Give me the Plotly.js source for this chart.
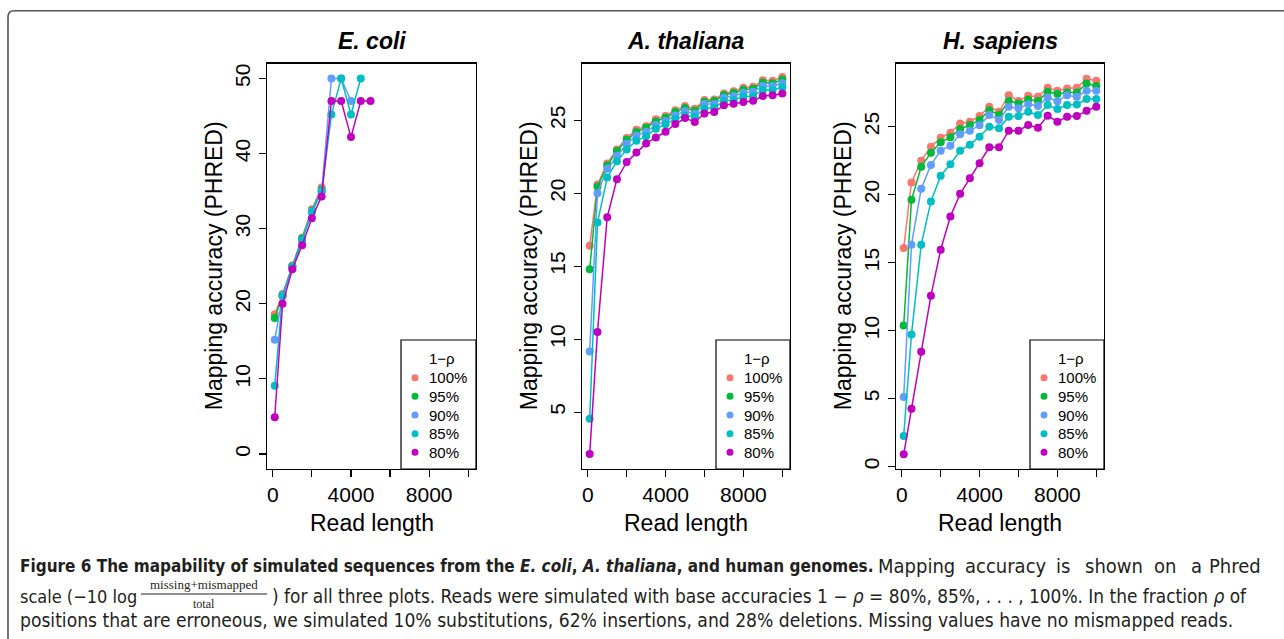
<!DOCTYPE html>
<html>
<head>
<meta charset="utf-8">
<script src="https://cdn.plot.ly/plotly-3.0.1.min.js"></script>
<style>html,body{margin:0;padding:0;background:#fff;}#chart{width:1284px;height:639px;}</style>
</head>
<body>
<div id="chart"></div>
<script>
// ---------- data ----------
const readLength = [100, 500, 1000, 1500, 2000, 2500, 3000, 3500, 4000, 4500, 5000, 5500, 6000, 6500, 7000, 7500, 8000, 8500, 9000, 9500, 10000];
const seriesNames = ['100%', '95%', '90%', '85%', '80%'];
const seriesColors = ['#F8766D', '#00BA38', '#619CFF', '#00BFC4', '#C000C0'];
const panelTitles = ['E. coli', 'A. thaliana', 'H. sapiens'];
const legendTitle = '1\u2212\u03c1';

const ecoli100 = [18.6, 21.3, 25.1, 28.8, 32.6, 35.5, null, null, null, null, null, null, null, null, null, null, null, null, null, null, null];
const ecoli95  = [18.1, 21.1, 25.0, 28.7, 32.4, 35.2, null, null, null, null, null, null, null, null, null, null, null, null, null, null, null];
const ecoli90  = [15.2, 21.0, 24.9, 28.4, 32.3, 35.0, 50, 50, 47, null, null, null, null, null, null, null, null, null, null, null, null];
const ecoli85  = [9.1, 21.1, 24.9, 28.5, 32.2, 34.9, 45.2, 50, 45.2, 50, null, null, null, null, null, null, null, null, null, null, null];
const ecoli80  = [4.9, 20.0, 24.6, 27.8, 31.4, 34.3, 47, 47, 42.2, 47, 47, null, null, null, null, null, null, null, null, null, null];

const athal100 = [16.4, 20.6, 22.05, 23.0, 23.8, 24.35, 24.6, 25.07, 25.3, 25.7, 25.98, 25.8, 26.4, 26.44, 26.85, 27.0, 27.24, 27.3, 27.75, 27.72, 27.97];
const athal95  = [14.8, 20.45, 21.9, 22.9, 23.67, 24.2, 24.5, 24.93, 25.18, 25.57, 25.85, 25.66, 26.28, 26.33, 26.74, 26.88, 27.1, 27.17, 27.59, 27.54, 27.8];
const athal90  = [9.16, 20.0, 21.68, 22.57, 23.4, 23.97, 24.22, 24.68, 24.95, 25.34, 25.62, 25.46, 26.12, 26.12, 26.56, 26.67, 26.9, 26.97, 27.36, 27.36, 27.54];
const athal85  = [4.54, 18.0, 21.09, 22.19, 23.0, 23.6, 23.92, 24.43, 24.73, 25.1, 25.34, 25.23, 25.82, 25.87, 26.33, 26.4, 26.62, 26.67, 27.08, 27.08, 27.27];
const athal80  = [2.12, 10.5, 18.36, 20.97, 22.14, 22.8, 23.42, 23.83, 24.22, 24.75, 25.16, 24.89, 25.48, 25.57, 26.03, 26.14, 26.26, 26.35, 26.67, 26.72, 26.85];

const hsap100 = [16.07, 20.9, 22.5, 23.53, 24.19, 24.56, 25.24, 25.37, 25.78, 26.47, 26.1, 27.32, 26.9, 27.27, 27.2, 27.86, 27.64, 27.81, 27.86, 28.52, 28.38];
const hsap95  = [10.37, 19.62, 22.06, 23.09, 23.85, 24.22, 24.83, 25.12, 25.49, 26.22, 25.86, 26.9, 26.71, 27.0, 26.9, 27.57, 27.4, 27.52, 27.52, 28.18, 28.0];
const hsap90  = [5.11, 16.32, 20.43, 22.19, 23.24, 23.6, 24.44, 24.71, 25.1, 25.86, 25.49, 26.47, 26.35, 26.66, 26.52, 27.15, 26.88, 27.32, 27.2, 27.64, 27.64];
const hsap85  = [2.25, 9.71, 16.32, 19.5, 21.4, 22.24, 23.24, 23.68, 24.27, 25.0, 24.88, 25.73, 25.78, 26.1, 25.86, 26.59, 26.3, 26.59, 26.64, 27.03, 27.03];
const hsap80  = [0.9, 4.26, 8.44, 12.57, 15.95, 18.4, 20.06, 21.21, 22.31, 23.48, 23.48, 24.71, 24.71, 25.12, 24.93, 25.81, 25.37, 25.73, 25.78, 26.17, 26.47];

const xTickVals = [0, 2000, 4000, 6000, 8000, 10000];
const xTickText = ['0', '', '4000', '', '8000', ''];
const yTickVals1 = [0, 10, 20, 30, 40, 50];
const yTickVals2 = [5, 10, 15, 20, 25];
const yTickVals3 = [0, 5, 10, 15, 20, 25];

const panelSeries = [
  [ecoli100, ecoli95, ecoli90, ecoli85, ecoli80],
  [athal100, athal95, athal90, athal85, athal80],
  [hsap100, hsap95, hsap90, hsap85, hsap80]
];

// ---------- layout helpers ----------
const W = 1284, H = 639;
const fx = v => v / W;
const fy = v => 1 - v / H;
const FONT = 'Liberation Sans, Arial, Helvetica, sans-serif';
const panels = [{l: 267, r: 476}, {l: 582, r: 790}, {l: 896, r: 1104}];
const boxTop = 63.5, boxBottom = 469;
const legendLeft = [401, 716, 1030];
const yRanges = [[-2, 52], [1.1, 28.9], [-0.18, 29.65]];
const yTicks = [yTickVals1, yTickVals2, yTickVals3];

const traces = [];
panelSeries.forEach((group, p) => {
  group.forEach((ys, s) => {
    traces.push({
      x: readLength, y: ys,
      xaxis: p === 0 ? 'x' : 'x' + (p + 1),
      yaxis: p === 0 ? 'y' : 'y' + (p + 1),
      type: 'scatter', mode: 'lines+markers',
      name: seriesNames[s], showlegend: false,
      connectgaps: false,
      line: {color: seriesColors[s], width: 1.5},
      marker: {color: seriesColors[s], size: 8}
    });
  });
});

const layout = {
  width: W, height: H,
  margin: {l: 0, r: 0, t: 0, b: 0},
  paper_bgcolor: '#fff', plot_bgcolor: '#fff',
  showlegend: false,
  font: {family: FONT, color: '#000'},
  shapes: [], annotations: []
};

panels.forEach((pn, p) => {
  const sfx = p === 0 ? '' : String(p + 1);
  layout['xaxis' + sfx] = {
    domain: [fx(pn.l), fx(pn.r)], anchor: 'y' + sfx,
    range: [-296, 10396],
    tickvals: xTickVals, ticktext: xTickText,
    ticks: 'outside', ticklen: 7, tickwidth: 1.2, tickcolor: '#000',
    showline: true, mirror: true, linecolor: '#000', linewidth: 1.2,
    showgrid: false, zeroline: false,
    tickfont: {family: FONT, size: 21, color: '#000'}
  };
  layout['yaxis' + sfx] = {
    domain: [fy(boxBottom), fy(boxTop)], anchor: 'x' + sfx,
    range: yRanges[p],
    tickvals: yTicks[p], tickangle: -90,
    ticks: 'outside', ticklen: 7, tickwidth: 1.2, tickcolor: '#000',
    showline: true, mirror: true, linecolor: '#000', linewidth: 1.2,
    showgrid: false, zeroline: false,
    tickfont: {family: FONT, size: 21, color: '#000'}
  };
  const cx = (pn.l + pn.r) / 2;
  layout.annotations.push({xref: 'paper', yref: 'paper', x: fx(cx), y: fy(41), xanchor: 'center', yanchor: 'middle',
    text: '<b><i>' + panelTitles[p] + '</i></b>', showarrow: false, font: {family: FONT, size: 23, color: '#000'}});
  layout.annotations.push({xref: 'paper', yref: 'paper', x: fx(cx), y: fy(523), xanchor: 'center', yanchor: 'middle',
    text: 'Read length', showarrow: false, font: {family: FONT, size: 23, color: '#000'}});
  layout.annotations.push({xref: 'paper', yref: 'paper', x: fx(pn.l - 53), y: fy((boxTop + boxBottom) / 2), xanchor: 'center', yanchor: 'middle',
    text: 'Mapping accuracy (PHRED)', textangle: -90, showarrow: false, font: {family: FONT, size: 23, color: '#000'}});
  const ll = legendLeft[p];
  layout.shapes.push({type: 'rect', xref: 'paper', yref: 'paper', x0: fx(ll), x1: fx(pn.r), y0: fy(boxBottom), y1: fy(340),
    line: {color: '#000', width: 1.2}, fillcolor: '#fff', layer: 'above'});
  layout.annotations.push({xref: 'paper', yref: 'paper', x: fx(ll + 41), y: fy(358), xanchor: 'center', yanchor: 'middle',
    text: legendTitle, showarrow: false, font: {family: FONT, size: 15, color: '#000'}});
  seriesNames.forEach((nm, s) => {
    const ry = 377.7 + s * 18.65;
    layout.shapes.push({type: 'circle', xref: 'paper', yref: 'paper', x0: fx(ll + 10.5), x1: fx(ll + 17.5), y0: fy(ry + 3.5), y1: fy(ry - 3.5),
      line: {width: 0}, fillcolor: seriesColors[s], layer: 'above'});
    layout.annotations.push({xref: 'paper', yref: 'paper', x: fx(ll + 26), y: fy(ry), xanchor: 'left', yanchor: 'middle',
      text: nm, showarrow: false, font: {family: FONT, size: 15, color: '#000'}});
  });
});

// figure frame (left + top with rounded corner)
layout.shapes.push({type: 'path', xref: 'paper', yref: 'paper',
  path: 'M ' + fx(8) + ',' + fy(639) + ' L ' + fx(8) + ',' + fy(17) + ' Q ' + fx(8) + ',' + fy(10.7) + ' ' + fx(14) + ',' + fy(10.7) + ' L ' + fx(1284) + ',' + fy(10.7),
  line: {color: '#555', width: 1.6}});

// caption
const CAP = 'DejaVu Sans Condensed, DejaVu Sans, sans-serif';
const capColor = '#231f20';
const capAnn = (x, y, anchor, size, text) => layout.annotations.push({xref: 'paper', yref: 'paper', x: fx(x), y: fy(y),
  xanchor: anchor, yanchor: 'middle', showarrow: false, font: {family: CAP, size: size, color: capColor}, text: text});
capAnn(18, 566, 'left', 17,
  '<b>Figure 6 The mapability of simulated sequences from the <i>E. coli</i>, <i>A. thaliana</i>, and human genomes.</b>');
// justified remainder of line 1
const line1Words = ['Mapping', 'accuracy', 'is', 'shown', 'on', 'a'];
const line1Pos = [876, 963, 1054, 1083, 1152, 1189];
line1Words.forEach((w, i) => capAnn(line1Pos[i], 566, 'left', 20, w));
capAnn(1263, 566, 'right', 20, 'Phred');
capAnn(18, 596, 'left', 18, 'scale (\u221210 log');
layout.annotations.push({xref: 'paper', yref: 'paper', x: fx(204), y: fy(584), xanchor: 'center', yanchor: 'middle', showarrow: false,
  font: {family: 'Liberation Serif, serif', size: 13, color: capColor}, text: 'missing+mismapped'});
layout.annotations.push({xref: 'paper', yref: 'paper', x: fx(204), y: fy(603.5), xanchor: 'center', yanchor: 'middle', showarrow: false,
  font: {family: 'Liberation Serif, serif', size: 12, color: capColor}, text: 'total'});
layout.shapes.push({type: 'line', xref: 'paper', yref: 'paper', x0: fx(141), x1: fx(267), y0: fy(594), y1: fy(594), line: {color: capColor, width: 1}});
capAnn(270, 596, 'left', 18.9,
  ') for all three plots. Reads were simulated with base accuracies 1 \u2212 <i>\u03c1</i> = 80%, 85%, . . . , 100%. In the fraction <i>\u03c1</i> of');
capAnn(18, 620, 'left', 19.1,
  'positions that are erroneous, we simulated 10% substitutions, 62% insertions, and 28% deletions. Missing values have no mismapped reads.');

Plotly.newPlot('chart', traces, layout, {displayModeBar: false, staticPlot: true});
</script>
</body>
</html>
